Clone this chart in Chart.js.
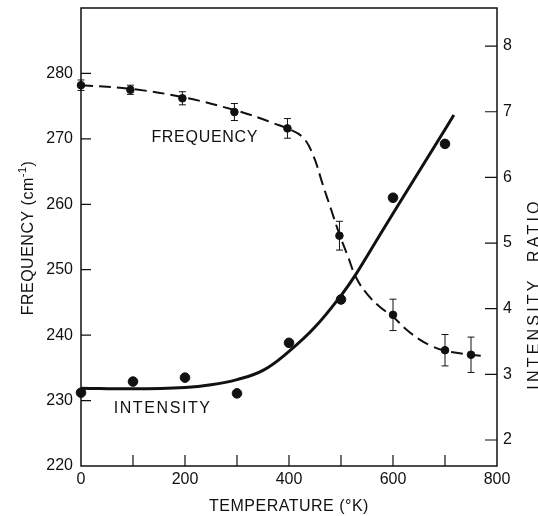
<!DOCTYPE html>
<html>
<head>
<meta charset="utf-8">
<script src="https://cdn.jsdelivr.net/npm/chart.js@4.4.1/dist/chart.umd.min.js"></script>
<style>
  body { margin: 0; background: #fff; }
  canvas { display: block; background: #fff; }
</style>
</head>
<body>
<canvas id="graphic" width="538" height="516"></canvas>
<script>
const freqTemps = [0, 95, 195, 295, 397, 497, 600, 700, 750]
const freqValues = [278.2, 277.5, 276.2, 274.1, 271.6, 255.2, 243.1, 237.7, 237.0]
const freqErrors = [0.8, 0.7, 1.0, 1.3, 1.5, 2.2, 2.4, 2.4, 2.7]

const freqCurveTemps = [0, 100, 200, 300, 350, 370, 400, 427, 446, 465, 481, 497, 513, 529, 550, 575, 600, 625, 650, 675, 700, 750, 780]
const freqCurveValues = [278.2, 277.6, 276.3, 274.3, 273.0, 272.4, 271.5, 270.2, 267.6, 263.0, 259.2, 255.4, 252.1, 248.8, 246.3, 244.3, 242.8, 240.9, 239.4, 238.3, 237.6, 237.0, 236.8]

const intTemps = [0, 100, 200, 300, 400, 500, 600, 700]
const intValues = [2.72, 2.89, 2.95, 2.71, 3.48, 4.14, 5.69, 6.51]

const intCurveTemps = [0, 100, 200, 250, 300, 350, 400, 450, 500, 525, 550, 600, 650, 700, 717]
const intCurveValues = [2.79, 2.78, 2.80, 2.84, 2.92, 3.06, 3.35, 3.72, 4.20, 4.48, 4.80, 5.45, 6.09, 6.73, 6.95]

const tempTicks = [0, 100, 200, 300, 400, 500, 600, 700, 800]
const freqTicks = [220, 230, 240, 250, 260, 270, 280]
const ratioTicks = [2, 3, 4, 5, 6, 7, 8]

const INK = '#111'
const FONT = "'Liberation Sans', Arial, sans-serif"

const toPoints = (xs, ys) => xs.map((x, i) => ({ x: x, y: ys[i] }))

const setTicks = (list) => (scale) => {
  scale.ticks = list.map(v => ({ value: v }))
}

const fixWidth = (w) => (s) => {
  s.width = w
  s.paddingTop = 0
  s.paddingBottom = 0
}

const drawText = (ctx, parts, cx, cy, angle, spacing) => {
  ctx.save()
  ctx.translate(cx, cy)
  ctx.rotate(angle)
  ctx.letterSpacing = spacing + 'px'
  ctx.textBaseline = 'alphabetic'
  ctx.textAlign = 'left'
  let total = 0
  parts.forEach(p => {
    ctx.font = p.size + 'px ' + FONT
    total += ctx.measureText(p.text).width
  })
  let x = -total / 2
  parts.forEach(p => {
    ctx.font = p.size + 'px ' + FONT
    ctx.fillText(p.text, x, 6 - (p.raise || 0))
    x += ctx.measureText(p.text).width
  })
  ctx.restore()
}

const frame = {
  id: 'frame',
  afterDatasetsDraw: (chart) => {
    const { ctx, chartArea: a, scales } = chart
    ctx.save()
    ctx.strokeStyle = INK
    ctx.fillStyle = INK
    ctx.lineWidth = 1.5
    ctx.strokeRect(a.left, a.top, a.right - a.left, a.bottom - a.top)

    // ticks point inward
    ctx.lineWidth = 1.2
    ctx.beginPath()
    tempTicks.slice(1, -1).forEach(t => {
      const x = scales.x.getPixelForValue(t)
      ctx.moveTo(x, a.bottom)
      ctx.lineTo(x, a.bottom - 11)
    })
    freqTicks.slice(1).forEach(f => {
      const y = scales.y.getPixelForValue(f)
      ctx.moveTo(a.left, y)
      ctx.lineTo(a.left + 10, y)
    })
    ratioTicks.forEach(r => {
      const y = scales.y2.getPixelForValue(r)
      ctx.moveTo(a.right, y)
      ctx.lineTo(a.right - 12, y)
    })
    ctx.stroke()

    // error bars
    ctx.lineWidth = 1
    ctx.beginPath()
    freqTemps.forEach((t, i) => {
      const x = scales.x.getPixelForValue(t)
      const top = scales.y.getPixelForValue(freqValues[i] + freqErrors[i])
      const bot = scales.y.getPixelForValue(freqValues[i] - freqErrors[i])
      ctx.moveTo(x, top)
      ctx.lineTo(x, bot)
      ctx.moveTo(x - 3.5, top)
      ctx.lineTo(x + 3.5, top)
      ctx.moveTo(x - 3.5, bot)
      ctx.lineTo(x + 3.5, bot)
    })
    ctx.stroke()

    drawText(ctx, [{ text: 'FREQUENCY', size: 16 }],
      scales.x.getPixelForValue(238), scales.y.getPixelForValue(270.4), 0, 0.7)
    drawText(ctx, [{ text: 'INTENSITY', size: 16 }],
      scales.x.getPixelForValue(157), scales.y2.getPixelForValue(2.5), 0, 1.6)

    drawText(ctx, [{ text: 'TEMPERATURE (°K)', size: 16 }], (a.left + a.right) / 2, 505, 0, 0.5)
    drawText(ctx, [
      { text: 'FREQUENCY (cm', size: 16 },
      { text: '-1', size: 11, raise: 7 },
      { text: ')', size: 16 }
    ], 27, 238, -Math.PI / 2, 0.5)
    drawText(ctx, [{ text: 'INTENSITY  RATIO', size: 16 }], 533, 294, -Math.PI / 2, 3.2)
    ctx.restore()
  }
}

const ctx = document.getElementById('graphic').getContext('2d')

const chart = new Chart(ctx, {
  type: 'scatter',
  data: {
    datasets: [
      {
        type: 'line',
        data: toPoints(freqCurveTemps, freqCurveValues),
        yAxisID: 'y',
        borderColor: INK,
        borderWidth: 2,
        borderDash: [12, 6],
        pointRadius: 0,
        tension: 0.4,
        fill: false
      },
      {
        type: 'line',
        data: toPoints(intCurveTemps, intCurveValues),
        yAxisID: 'y2',
        borderColor: INK,
        borderWidth: 3,
        pointRadius: 0,
        tension: 0.4,
        fill: false
      },
      {
        data: toPoints(freqTemps, freqValues),
        yAxisID: 'y',
        backgroundColor: INK,
        borderColor: INK,
        pointRadius: 3.8,
        clip: false
      },
      {
        data: toPoints(intTemps, intValues),
        yAxisID: 'y2',
        backgroundColor: INK,
        borderColor: INK,
        pointRadius: 4.8,
        clip: false
      }
    ]
  },
  options: {
    responsive: false,
    animation: false,
    layout: { padding: { top: 8 } },
    plugins: {
      legend: false,
      tooltip: { enabled: false }
    },
    scales: {
      x: {
        type: 'linear',
        min: 0,
        max: 800,
        afterBuildTicks: setTicks(tempTicks),
        afterFit: (s) => { s.height = 50; s.paddingLeft = 0; s.paddingRight = 0 },
        grid: { display: false, drawTicks: false },
        border: { display: false },
        ticks: {
          color: INK,
          padding: 4,
          maxRotation: 0,
          autoSkip: false,
          font: { family: FONT, size: 16 },
          callback: v => (v % 200 === 0 ? v : '')
        }
      },
      y: {
        position: 'left',
        min: 220,
        max: 290,
        afterBuildTicks: setTicks(freqTicks),
        afterFit: fixWidth(81),
        grid: { display: false, drawTicks: false },
        border: { display: false },
        ticks: {
          color: INK,
          padding: 8,
          font: { family: FONT, size: 16 }
        }
      },
      y2: {
        position: 'right',
        min: 1.604,
        max: 8.58,
        afterBuildTicks: setTicks(ratioTicks),
        afterFit: fixWidth(41),
        grid: { display: false, drawTicks: false },
        border: { display: false },
        ticks: {
          color: INK,
          padding: 6,
          font: { family: FONT, size: 16 }
        }
      }
    }
  },
  plugins: [frame]
})
</script>
</body>
</html>
